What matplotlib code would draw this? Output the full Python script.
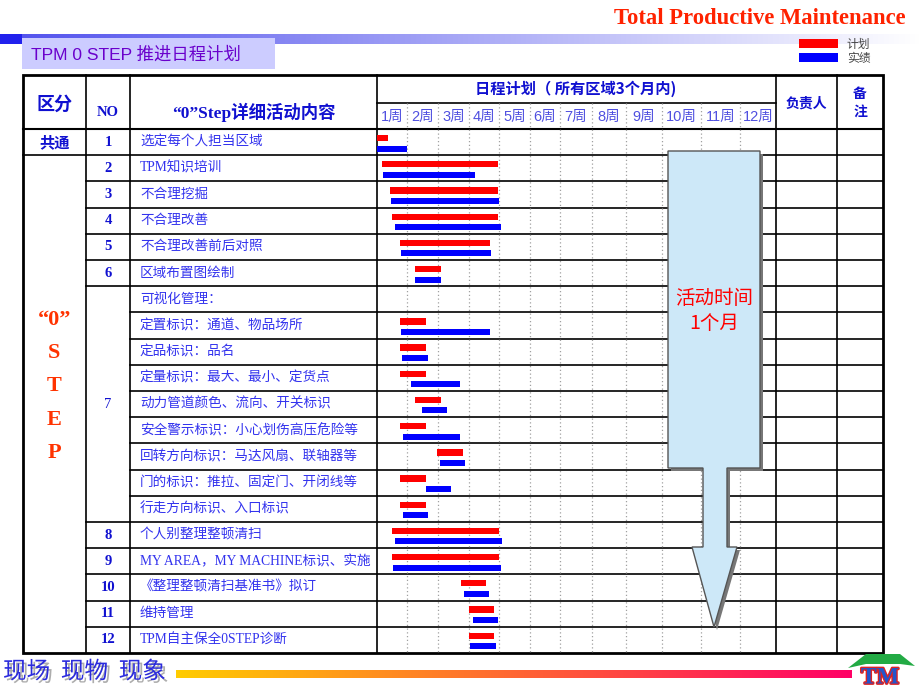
"""
TPM 0 STEP schedule sheet: table with a weekly Gantt of plan vs. actual.
"""

import numpy as np
import matplotlib.pyplot as plt
from matplotlib.patches import Rectangle, Polygon
import matplotlib.patheffects as pe

plt.rcParams['font.family'] = ['Noto Sans CJK SC', 'DejaVu Sans']

SERIF = ['Liberation Serif', 'Noto Sans CJK SC']
SANS = ['Liberation Sans', 'Noto Sans CJK SC']

# ---- data -------------------------------------------------------------
tasks = [
    '选定每个人担当区域',
    'TPM知识培训',
    '不合理挖掘',
    '不合理改善',
    '不合理改善前后对照',
    '区域布置图绘制',
    '可视化管理：',
    '定置标识：通道、物品场所',
    '定品标识：品名',
    '定量标识：最大、最小、定货点',
    '动力管道颜色、流向、开关标识',
    '安全警示标识：小心划伤高压危险等',
    '回转方向标识：马达风扇、联轴器等',
    '门的标识：推拉、固定门、开闭线等',
    '行走方向标识、入口标识',
    '个人别整理整顿清扫',
    'MY AREA，MY MACHINE标识、实施',
    '《整理整顿清扫基准书》拟订',
    '维持管理',
    'TPM自主保全0STEP诊断',
]
# task number and the first / last table row it spans
no_labels = ['1', '2', '3', '4', '5', '6', '7', '8', '9', '10', '11', '12']
no_first = [0, 1, 2, 3, 4, 5, 6, 15, 16, 17, 18, 19]
no_last = [0, 1, 2, 3, 4, 5, 14, 15, 16, 17, 18, 19]

# section column (区分)
section_labels = ['共通', '“0”\nS\nT\nE\nP']
section_first = [0, 1]
section_last = [0, 19]

weeks = ['1周', '2周', '3周', '4周', '5周', '6周', '7周', '8周', '9周', '10周', '11周', '12周']

# plan (计划) and actual (实绩) in weeks from the start
plan_start = [0.00, 0.17, 0.43, 0.51, 0.77, 1.27, np.nan, 0.77, 0.77, 0.77,
              1.27, 0.77, 1.98, 0.77, 0.77, 0.50, 0.50, 2.74, 3.00, 3.00]
plan_end = [0.35, 3.96, 3.96, 3.96, 3.70, 2.09, np.nan, 1.60, 1.60, 1.60,
            2.09, 1.60, 2.80, 1.60, 1.60, 4.00, 4.00, 3.58, 3.84, 3.84]
actual_start = [0.00, 0.21, 0.47, 0.59, 0.81, 1.27, np.nan, 0.81, 0.84, 1.14,
                1.48, 0.88, 2.06, 1.60, 0.88, 0.59, 0.54, 2.83, 3.12, 3.03]
actual_end = [1.00, 3.20, 4.00, 4.05, 3.74, 2.09, np.nan, 3.70, 1.67, 2.71,
              2.29, 2.71, 2.88, 2.42, 1.69, 4.11, 4.06, 3.67, 3.96, 3.90]

# ---- layout (pixels of the 920x690 sheet) -----------------------------
W, H = 920, 690
L, R, T, B = 23, 883, 75, 653
col_x = [86, 130, 377, 776, 837]
head_mid, head_bot = 103, 129
week_edges = [377, 407, 438, 469, 499, 530, 560, 592, 626, 662, 701, 740, 776]
rh = (B - head_bot) / len(tasks)

HEAD = '#1010d0'
BODY = '#3333ee'
RED = '#ff0000'
BLUE = '#0000ff'


def row_y(i):
    return head_bot + (i + 0.5) * rh


fig = plt.figure(figsize=(W / 100, H / 100), dpi=100)
base = fig.add_axes([0, 0, 1, 1], zorder=0)
base.set_xlim(0, W)
base.set_ylim(H, 0)
base.axis('off')

# top banner
grad = np.ones((1, W, 3))
t = np.clip((np.arange(W) - 22) / (W - 22), 0, 1)
grad[0, :, 0] = 0.33 + 0.67 * t
grad[0, :, 1] = 0.33 + 0.67 * t
grad[0, :, 2] = 0.93 + 0.07 * t
grad[0, :22] = (0.13, 0.13, 0.93)
base.imshow(grad, extent=(0, W, 44, 34), aspect='auto', zorder=1)
base.add_patch(Rectangle((22, 38), 253, 31, facecolor='#ccccff', edgecolor='none', zorder=2))
base.text(31, 54, 'TPM 0 STEP 推进日程计划', family=SANS, fontsize=12.5, color='#6a00cc',
          va='center', ha='left', zorder=3)
base.text(906, 19, 'Total Productive Maintenance', family='Liberation Serif', weight='bold',
          fontsize=16.3, color='#ff2200', ha='right', va='center')

# legend
base.add_patch(Rectangle((799, 39), 39, 9, facecolor=RED, edgecolor='none'))
base.add_patch(Rectangle((799, 53), 39, 9, facecolor=BLUE, edgecolor='none'))
base.text(847, 44, '计划', fontsize=8.5, color='#444444', va='center')
base.text(847, 58.5, '实绩', fontsize=8.5, color='#444444', va='center')

# table frame
lw = 1.2
base.add_patch(Rectangle((L, T), R - L, B - T, facecolor='white', edgecolor='black',
                         linewidth=2.0, zorder=4))
for x in col_x:
    base.plot([x, x], [T, B], color='black', lw=lw, zorder=5)
base.plot([col_x[2], col_x[3]], [head_mid, head_mid], color='black', lw=lw, zorder=5)
base.plot([L, R], [head_bot, head_bot], color='black', lw=1.5, zorder=5)

row_section = np.zeros(len(tasks), dtype=int)
for k, (a, b) in enumerate(zip(section_first, section_last)):
    row_section[a:b + 1] = k
row_no = np.zeros(len(tasks), dtype=int)
for k, (a, b) in enumerate(zip(no_first, no_last)):
    row_no[a:b + 1] = k

for i in range(1, len(tasks)):
    y = head_bot + i * rh
    if row_section[i] != row_section[i - 1]:
        x0 = L
    elif row_no[i] != row_no[i - 1]:
        x0 = col_x[0]
    else:
        x0 = col_x[1]
    base.plot([x0, R], [y, y], color='black', lw=lw, zorder=5)

# header texts
hb = dict(color=HEAD, weight='bold', ha='center', va='center', zorder=6)
base.text((L + col_x[0]) / 2, 104, '区分', fontsize=13, **hb)
base.text((col_x[0] + col_x[1]) / 2, 112, 'NO', family='Liberation Serif', fontsize=10.5, **hb)
base.text((col_x[1] + col_x[2]) / 2, 112, '“0”Step详细活动内容', family=SERIF, fontsize=12.5, **hb)
base.text(576, 89, '日程计划（ 所有区域3个月内)', fontsize=11, **hb)
base.text((col_x[3] + col_x[4]) / 2, 103, '负责人', fontsize=10, **hb)
base.text((col_x[4] + R) / 2, 103, '备\n注', fontsize=10, linespacing=1.3, **hb)

# section column
base.text((L + col_x[0]) / 2, row_y(section_first[0]), section_labels[0], fontsize=11, **hb)
for k, ch in enumerate(section_labels[1].split('\n')):
    base.text((L + col_x[0]) / 2, 320 + 33.2 * k, ch, family='Liberation Serif', weight='bold',
              fontsize=16, color='#ff3300', ha='center', va='center', zorder=6)

# number column
for lab, a, b in zip(no_labels, no_first, no_last):
    base.text((col_x[0] + col_x[1]) / 2, (row_y(a) + row_y(b)) / 2, lab,
              family='Liberation Serif', weight='bold' if a == b else 'normal',
              fontsize=10.5, color=HEAD, ha='center', va='center', zorder=6)

# task texts
for i, name in enumerate(tasks):
    base.text(140, row_y(i), name, family=SERIF, fontsize=9.8, color=BODY,
              ha='left', va='center', zorder=6)

# ---- Gantt area --------------------------------------------------------
gx = fig.add_axes([week_edges[0] / W, 1 - B / H, (week_edges[-1] - week_edges[0]) / W,
                   (B - head_mid) / H], zorder=1)
widx = np.arange(len(week_edges))
gx.set_xscale('function', functions=(lambda w: np.interp(w, widx, week_edges),
                                     lambda p: np.interp(p, week_edges, widx)))
gx.set_xlim(0, len(weeks))
gx.set_ylim(len(tasks), -1)
gx.axis('off')

gx.vlines(np.arange(1, len(weeks)), -1, len(tasks), colors='#a0a0a0', linestyles=(0, (1, 2)),
          lw=0.9, zorder=1)
for k, lab in enumerate(weeks):
    gx.text(k + 0.5, -0.45, lab, family=SANS, fontsize=10.5, color='#5050e0',
            ha='center', va='center')

rows = np.arange(len(tasks))
ps, pe_ = np.array(plan_start), np.array(plan_end)
as_, ae = np.array(actual_start), np.array(actual_end)
gx.barh(rows + 0.34, pe_ - ps, left=ps, height=0.24, color=RED, edgecolor='none', zorder=3)
gx.barh(rows + 0.74, ae - as_, left=as_, height=0.23, color=BLUE, edgecolor='none', zorder=3)

# ---- overlay: arrow and footer -----------------------------------------
top = fig.add_axes([0, 0, 1, 1], zorder=2)
top.set_xlim(0, W)
top.set_ylim(H, 0)
top.axis('off')

arrow = [(668, 151), (760, 151), (760, 468), (727, 468), (727, 547), (737, 547),
         (714, 627), (692, 547), (703, 547), (703, 468), (668, 468)]
top.add_patch(Polygon([(x + 3, y + 3) for x, y in arrow], closed=True,
                      facecolor='#777777', edgecolor='none'))
top.add_patch(Polygon(arrow, closed=True, facecolor='#cde8f8', edgecolor='#555555', lw=1))
top.text(714, 311, '活动时间\n1个月', fontsize=14, color='#ff0000', ha='center', va='center',
         linespacing=1.25)

foot = np.zeros((1, 256, 3))
s = np.linspace(0, 1, 256)
foot[0, :, 0] = 1.0
foot[0, :, 1] = 0.80 * (1 - s)
foot[0, :, 2] = 0.40 * s
top.imshow(foot, extent=(176, 852, 678, 670), aspect='auto')

top.text(3, 672, '现场  现物  现象', fontsize=17, color='#2b2bdd', ha='left', va='center',
         path_effects=[pe.withSimplePatchShadow(offset=(2, -2), shadow_rgbFace='#999999',
                                                alpha=0.8)])

# small TPM logo
top.add_patch(Polygon([(848, 668), (866, 654), (900, 654), (915, 666), (900, 664), (866, 664)],
                      closed=True, facecolor='#22aa44', edgecolor='none'))
top.text(880, 678, 'TM', family='Liberation Serif', weight='bold', fontsize=17,
         color='#2255cc', ha='center', va='center',
         path_effects=[pe.withStroke(linewidth=2, foreground='#dd2222')])

fig.savefig('out.png', dpi=100)
